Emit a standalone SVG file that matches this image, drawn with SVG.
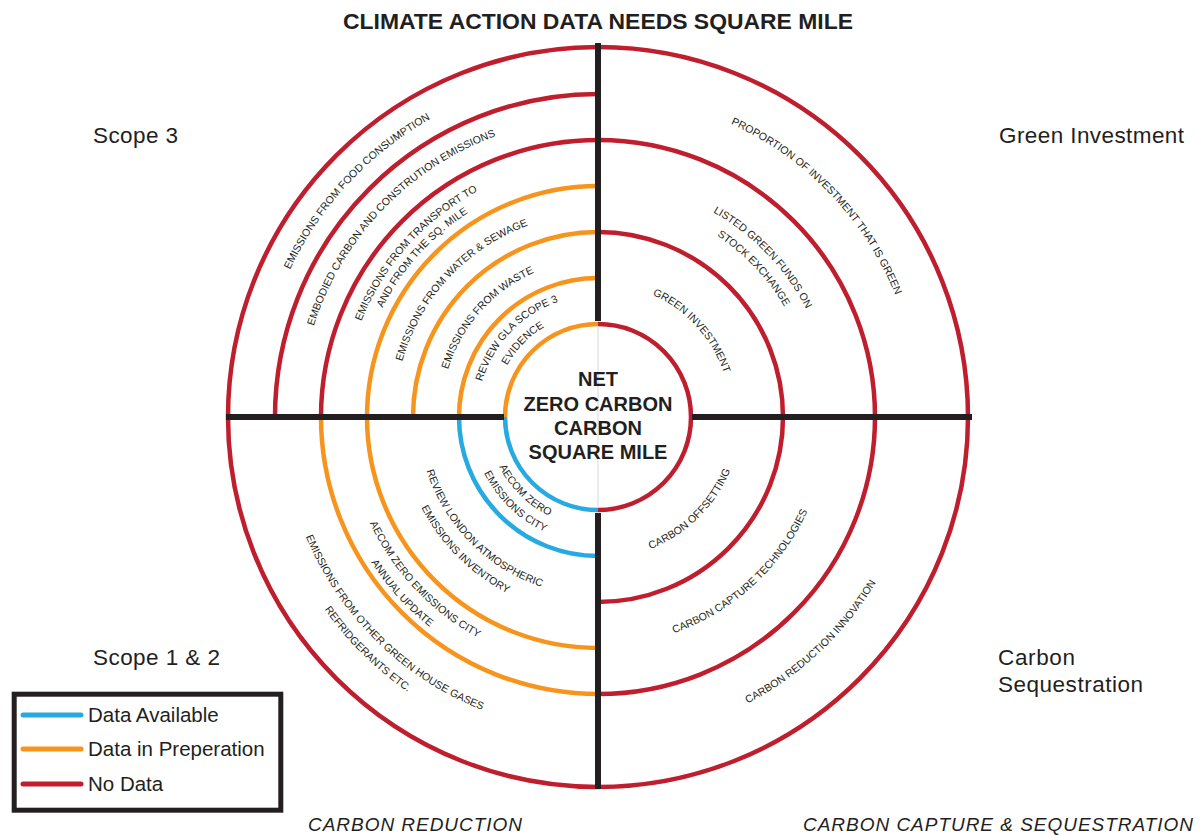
<svg xmlns="http://www.w3.org/2000/svg" width="1200" height="837" viewBox="0 0 1200 837">
<style>
.ring{fill:none;stroke-width:4.5}
.r{stroke:#BE1E2D}.o{stroke:#F7941D}.b{stroke:#27AAE1}
.div{stroke:#231F20;stroke-width:6}
.lbl{font-family:"Liberation Sans",Arial,sans-serif;font-size:10.6px;fill:#231F20}
.q{font-family:"Liberation Sans",Arial,sans-serif;font-size:22.5px;fill:#231F20}
.lg{font-family:"Liberation Sans",Arial,sans-serif;font-size:20.5px;fill:#231F20}
.ctr{font-family:"Liberation Sans",Arial,sans-serif;font-size:20px;font-weight:bold;fill:#231F20;text-anchor:middle}
.bot{font-family:"Liberation Sans",Arial,sans-serif;font-size:19px;font-style:italic;fill:#231F20}
</style>
<defs>
<path id="pT1" d="M257.5,398.2 A341,341 0 0 1 556.4,77.5"/>
<path id="pT2" d="M300.6,396.5 A298,298 0 0 1 565.6,119.8"/>
<path id="pT3a" d="M343.1,407.8 A255,255 0 0 1 561.9,163.6"/>
<path id="pT3b" d="M357.1,407.6 A241,241 0 0 1 564.5,177.3"/>
<path id="pT4" d="M395.2,406.4 A203,203 0 0 1 572.2,214.6"/>
<path id="pT5" d="M441.1,411.6 A157,157 0 0 1 575.1,260.7"/>
<path id="pT6a" d="M477.3,408.2 A121,121 0 0 1 584.7,295.7"/>
<path id="pT6b" d="M494.3,408.7 A104,104 0 0 1 587.1,312.6"/>
<path id="pR1" d="M632.4,96.9 A321,321 0 0 1 918.3,394.4"/>
<path id="pR2a" d="M622.9,183.3 A234,234 0 0 1 831.5,400.1"/>
<path id="pR2b" d="M622.5,201.4 A216,216 0 0 1 813.6,402.8"/>
<path id="pR3" d="M615.9,284.2 A133,133 0 0 1 730.9,410.8"/>
<path id="pB1" d="M609.5,558.5 A143,143 0 0 0 740.4,429.5"/>
<path id="pB2" d="M607.6,645.8 A230,230 0 0 0 826.0,446.4"/>
<path id="pB3" d="M616.6,739.5 A324,324 0 0 0 919.8,453.8"/>
<path id="pL1a" d="M487.5,426.8 A111,111 0 0 0 589.5,526.7"/>
<path id="pL1b" d="M471.2,429.3 A127.5,127.5 0 0 0 589.1,543.2"/>
<path id="pL2a" d="M418.6,430.7 A180,180 0 0 0 581.4,595.2"/>
<path id="pL2b" d="M399.8,433.9 A199,199 0 0 0 581.2,614.3"/>
<path id="pL3a" d="M346.4,430.9 A252,252 0 0 0 569.0,666.3"/>
<path id="pL3b" d="M328.2,425.9 A270,270 0 0 0 560.9,683.4"/>
<path id="pL4a" d="M283.4,446.0 A316,316 0 0 0 572.9,731.0"/>
<path id="pL4b" d="M264.5,447.2 A335,335 0 0 0 570.8,749.9"/>
</defs>
<rect width="1200" height="837" fill="#ffffff"/>
<g id="title">
<text x="598" y="29" class="ctr" style="font-size:22.5px" textLength="510" lengthAdjust="spacingAndGlyphs">CLIMATE ACTION DATA NEEDS SQUARE MILE</text>
</g>
<g id="connectors">
<g id="rings-top-left">
<path class="ring o" d="M505,417 A93,93 0 0 1 598,324"/>
<path class="ring o" d="M459,417 A139,139 0 0 1 598,278"/>
<path class="ring o" d="M413,417 A185,185 0 0 1 598,232"/>
<path class="ring o" d="M367,417 A231,231 0 0 1 598,186"/>
<path class="ring r" d="M321,417 A277,277 0 0 1 598,140"/>
<path class="ring r" d="M275,417 A323,323 0 0 1 598,94"/>
<path class="ring r" d="M228,417 A370,370 0 0 1 598,47"/>
</g>
<g id="rings-top-right">
<path class="ring r" d="M598,324 A93,93 0 0 1 691,417"/>
<path class="ring r" d="M598,232 A185,185 0 0 1 783,417"/>
<path class="ring r" d="M598,140 A277,277 0 0 1 875,417"/>
<path class="ring r" d="M598,47 A370,370 0 0 1 968,417"/>
</g>
<g id="rings-bottom-right">
<path class="ring r" d="M691,417 A93,93 0 0 1 598,510"/>
<path class="ring r" d="M783,417 A185,185 0 0 1 598,602"/>
<path class="ring r" d="M875,417 A277,277 0 0 1 598,694"/>
<path class="ring r" d="M968,417 A370,370 0 0 1 598,787"/>
</g>
<g id="rings-bottom-left">
<path class="ring b" d="M598,510 A93,93 0 0 1 505,417"/>
<path class="ring b" d="M598,556 A139,139 0 0 1 459,417"/>
<path class="ring o" d="M598,648 A231,231 0 0 1 367,417"/>
<path class="ring o" d="M598,694 A277,277 0 0 1 321,417"/>
<path class="ring r" d="M598,787 A370,370 0 0 1 228,417"/>
</g>
<line x1="598" y1="326" x2="598" y2="508" stroke="#d8d8d8" stroke-width="1"/>
<g id="dividers">
<line class="div" x1="598" y1="43" x2="598" y2="321"/>
<line class="div" x1="598" y1="513" x2="598" y2="789"/>
<line class="div" x1="226" y1="417" x2="504" y2="417"/>
<line class="div" x1="692" y1="417" x2="972" y2="417"/>
</g>
</g>
<g id="node-center">
<text class="ctr" x="598" y="386">NET</text>
<text class="ctr" x="598" y="411">ZERO CARBON</text>
<text class="ctr" x="598" y="435">CARBON</text>
<text class="ctr" x="598" y="459">SQUARE MILE</text>
</g>
<g id="node-scope3" class="lbl" text-anchor="middle">
<text><textPath href="#pT1" startOffset="50%">EMISSIONS FROM FOOD CONSUMPTION</textPath></text>
<text><textPath href="#pT2" startOffset="50%">EMBODIED CARBON AND CONSTRUTION EMISSIONS</textPath></text>
<text><textPath href="#pT3a" startOffset="50%">EMISSIONS FROM TRANSPORT TO</textPath></text>
<text><textPath href="#pT3b" startOffset="50%">AND FROM THE SQ. MILE</textPath></text>
<text><textPath href="#pT4" startOffset="50%">EMISSIONS FROM WATER &amp; SEWAGE</textPath></text>
<text><textPath href="#pT5" startOffset="50%">EMISSIONS FROM WASTE</textPath></text>
<text><textPath href="#pT6a" startOffset="50%">REVIEW GLA SCOPE 3</textPath></text>
<text><textPath href="#pT6b" startOffset="50%">EVIDENCE</textPath></text>
</g>
<g id="node-green-investment" class="lbl" text-anchor="middle">
<text><textPath href="#pR1" startOffset="50%">PROPORTION OF INVESTMENT THAT IS GREEN</textPath></text>
<text><textPath href="#pR2a" startOffset="50%">LISTED GREEN FUNDS ON</textPath></text>
<text><textPath href="#pR2b" startOffset="50%">STOCK EXCHANGE</textPath></text>
<text><textPath href="#pR3" startOffset="50%">GREEN INVESTMENT</textPath></text>
</g>
<g id="node-sequestration" class="lbl" text-anchor="middle">
<text><textPath href="#pB1" startOffset="50%">CARBON OFFSETTING</textPath></text>
<text><textPath href="#pB2" startOffset="50%">CARBON CAPTURE TECHNOLOGIES</textPath></text>
<text><textPath href="#pB3" startOffset="50%">CARBON REDUCTION INNOVATION</textPath></text>
</g>
<g id="node-scope12" class="lbl" text-anchor="middle">
<text><textPath href="#pL1a" startOffset="50%">AECOM ZERO</textPath></text>
<text><textPath href="#pL1b" startOffset="50%">EMISSIONS CITY</textPath></text>
<text><textPath href="#pL2a" startOffset="50%">REVIEW LONDON ATMOSPHERIC</textPath></text>
<text><textPath href="#pL2b" startOffset="50%">EMISSIONS INVENTORY</textPath></text>
<text><textPath href="#pL3a" startOffset="50%">AECOM ZERO EMISSIONS CITY</textPath></text>
<text><textPath href="#pL3b" startOffset="50%">ANNUAL UPDATE</textPath></text>
<text><textPath href="#pL4a" startOffset="50%">EMISSIONS FROM OTHER GREEN HOUSE GASES</textPath></text>
<text><textPath href="#pL4b" startOffset="50%">REFRIDGERANTS ETC.</textPath></text>
</g>
<g id="quadrant-labels">
<text class="q" x="93" y="143" textLength="85">Scope 3</text>
<text class="q" x="999" y="143" textLength="185">Green Investment</text>
<text class="q" x="93" y="665" textLength="127">Scope 1 &amp; 2</text>
<text class="q" x="998" y="665" textLength="77">Carbon</text>
<text class="q" x="998" y="692" textLength="145">Sequestration</text>
</g>
<g id="bottom-labels">
<text class="bot" x="308" y="831" textLength="214">CARBON REDUCTION</text>
<text class="bot" x="803" y="831" textLength="390">CARBON CAPTURE &amp; SEQUESTRATION</text>
</g>
<g id="legend">
<rect x="14.2" y="694.2" width="266.6" height="116" fill="none" stroke="#231F20" stroke-width="5"/>
<line x1="23" y1="715" x2="81" y2="715" stroke="#27AAE1" stroke-width="5" stroke-linecap="round"/>
<line x1="23" y1="749" x2="81" y2="749" stroke="#F7941D" stroke-width="5" stroke-linecap="round"/>
<line x1="23" y1="784" x2="81" y2="784" stroke="#BE1E2D" stroke-width="5" stroke-linecap="round"/>
<text class="lg" x="88" y="722">Data Available</text>
<text class="lg" x="88" y="756">Data in Preperation</text>
<text class="lg" x="88" y="791">No Data</text>
</g>
</svg>
